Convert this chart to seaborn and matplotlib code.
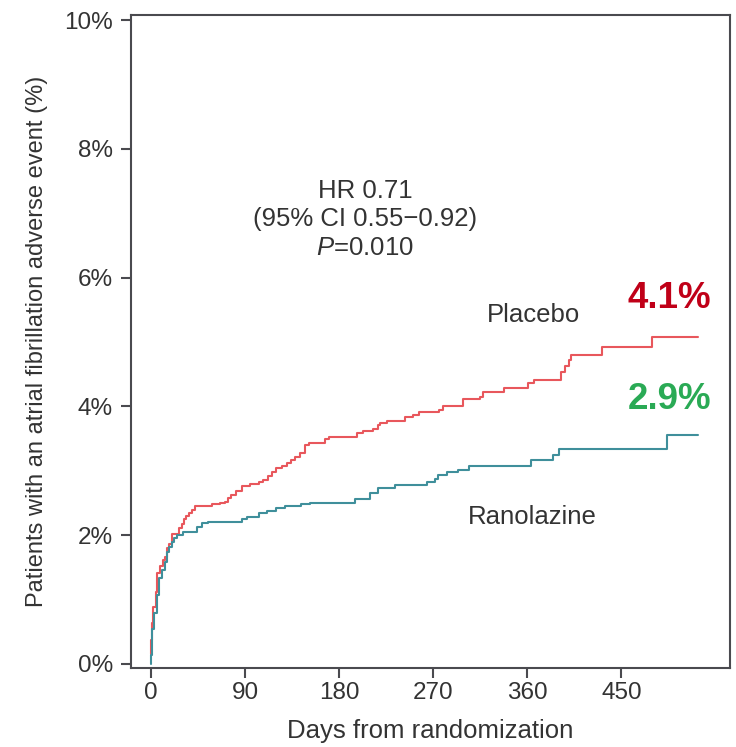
import numpy as np
import pandas as pd
import matplotlib
matplotlib.use("Agg")
import matplotlib.pyplot as plt
import seaborn as sns

# ---- data ----
placebo_days = [0, 0.5, 1, 2, 4.5, 6, 8.5, 12, 13.5, 15.5,
                17.5, 20, 27, 29.5, 31.5, 34, 36.5, 39, 42, 58,
                66, 71, 74, 77, 81, 87, 95, 103, 107, 112,
                116, 120, 125, 130, 134, 138, 143, 147.5, 151, 166.5,
                170, 197, 203, 212, 217.5, 219, 226, 243, 250.5, 256,
                276, 279, 299, 315, 318, 338, 361, 366, 392.5, 396,
                400, 402, 431, 479, 523]
placebo_pct = [0.15, 0.37, 0.63, 0.89, 1.12, 1.41, 1.52, 1.61, 1.66, 1.80,
               1.87, 2.02, 2.11, 2.18, 2.25, 2.30, 2.35, 2.39, 2.46, 2.48,
               2.50, 2.52, 2.57, 2.62, 2.68, 2.77, 2.80, 2.83, 2.86, 2.92,
               2.98, 3.04, 3.08, 3.12, 3.16, 3.21, 3.27, 3.40, 3.43, 3.50,
               3.53, 3.58, 3.62, 3.65, 3.71, 3.75, 3.78, 3.83, 3.87, 3.91,
               3.94, 4.00, 4.11, 4.15, 4.23, 4.28, 4.36, 4.41, 4.54, 4.63,
               4.72, 4.80, 4.92, 5.08, 5.08]

ranolazine_days = [0, 0.3, 1.3, 3.2, 5.4, 8, 10.2, 13.4, 15.6, 17.5,
                   19.8, 22, 25, 31, 43.7, 48.5, 55, 87, 91.6, 103,
                   111, 120, 128, 144, 152, 195, 210, 217, 233.6, 264,
                   272, 275, 283, 293.6, 304, 364, 385, 390, 494, 523]
ranolazine_pct = [0, 0.14, 0.55, 0.79, 1.07, 1.33, 1.46, 1.59, 1.74, 1.82,
                  1.90, 1.95, 2.00, 2.05, 2.13, 2.19, 2.21, 2.25, 2.29, 2.34,
                  2.38, 2.42, 2.45, 2.48, 2.50, 2.56, 2.66, 2.74, 2.78, 2.82,
                  2.88, 2.93, 2.98, 3.01, 3.08, 3.16, 3.25, 3.34, 3.55, 3.55]

arms = ["Placebo", "Ranolazine"]
x_ticks = [0, 90, 180, 270, 360, 450]
y_ticks = [0, 2, 4, 6, 8, 10]
y_tick_labels = ["0%", "2%", "4%", "6%", "8%", "10%"]
stats_lines = ["HR 0.71", "(95% CI 0.55\u22120.92)", "$P$=0.010"]
final_labels = ["4.1%", "2.9%"]

df = pd.concat([
    pd.DataFrame({"day": placebo_days, "pct": placebo_pct, "arm": arms[0]}),
    pd.DataFrame({"day": ranolazine_days, "pct": ranolazine_pct, "arm": arms[1]}),
], ignore_index=True)

# ---- style ----
sns.set_theme(style="white")
plt.rcParams["font.family"] = ["Liberation Sans", "DejaVu Sans"]
plt.rcParams["mathtext.fontset"] = "custom"
plt.rcParams["mathtext.it"] = "Liberation Sans:italic"
plt.rcParams["mathtext.rm"] = "Liberation Sans"

text_col = "#333333"
frame_col = "#4a4a4f"
palette = {"Placebo": "#e8575c", "Ranolazine": "#3f8f9b"}

fig = plt.figure(figsize=(7.36, 7.47), dpi=100)
ax = fig.add_axes([0.178, 0.106, 0.814, 0.874])

sns.lineplot(data=df, x="day", y="pct", hue="arm", palette=palette,
             drawstyle="steps-post", estimator=None, sort=False,
             linewidth=1.5, legend=False, ax=ax)

ax.set_xlim(-19, 554)
ax.set_ylim(-0.06, 10.08)
ax.set_xticks(x_ticks)
ax.set_xticklabels([str(t) for t in x_ticks])
ax.set_yticks(y_ticks)
ax.set_yticklabels(y_tick_labels)

for s in ax.spines.values():
    s.set_color(frame_col)
    s.set_linewidth(1.5)
    s.set_visible(True)

ax.tick_params(axis="both", direction="out", length=7, width=1.5,
               color=frame_col, labelcolor=text_col, labelsize=17.5)
ax.tick_params(axis="x", bottom=True, pad=3)
ax.tick_params(axis="y", left=True, pad=6)

ax.set_xlabel("Days from randomization", fontsize=18.5, color=text_col, labelpad=11)
ax.set_ylabel("Patients with an atrial fibrillation adverse event (%)",
              fontsize=17, color=text_col, labelpad=12)

# stats text
for txt, y in zip(stats_lines, [7.34, 6.91, 6.46]):
    ax.text(205, y, txt, ha="center", va="center", fontsize=18.5, color=text_col)

# arm labels
ax.text(366, 5.42, arms[0], ha="center", va="center", fontsize=18.5, color=text_col)
ax.text(365, 2.28, arms[1], ha="center", va="center", fontsize=18.5, color=text_col)

# final percentages
ax.text(536, 5.68, final_labels[0], ha="right", va="center", fontsize=26.5,
        fontweight="bold", color="#c00018")
ax.text(536, 4.10, final_labels[1], ha="right", va="center", fontsize=26.5,
        fontweight="bold", color="#2aaa55")

fig.savefig("out.png", dpi=100, facecolor="white")
